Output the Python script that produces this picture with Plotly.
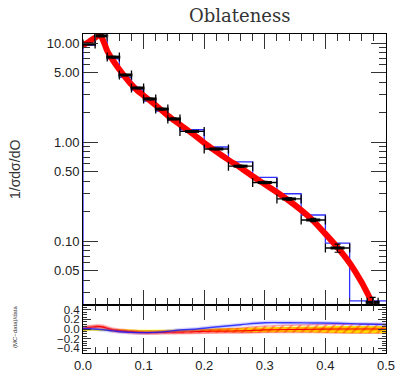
import plotly.graph_objects as go

# ---------------- data ----------------
bin_edges = [0.0, 0.02, 0.04, 0.06, 0.08, 0.10, 0.12, 0.14, 0.16, 0.20,
             0.24, 0.28, 0.32, 0.36, 0.40, 0.44, 0.50]
mc_hist = [9.5, 11.8, 6.9, 4.5, 3.35, 2.59, 2.05, 1.65, 1.33, 0.89,
           0.63, 0.44, 0.30, 0.183, 0.095, 0.0248]

data_x = [0.01, 0.03, 0.05, 0.07, 0.09, 0.11, 0.13, 0.15, 0.18, 0.22,
          0.26, 0.30, 0.34, 0.38, 0.42, 0.478]
data_xerr = [0.01, 0.01, 0.01, 0.01, 0.01, 0.01, 0.01, 0.01, 0.02, 0.02,
             0.02, 0.02, 0.02, 0.02, 0.02, 0.009]
data_y = [9.77, 11.8, 7.2, 4.75, 3.51, 2.72, 2.15, 1.71, 1.28, 0.85,
          0.57, 0.39, 0.266, 0.163, 0.085, 0.024]
data_yerr = [0.15, 0.2, 0.12, 0.08, 0.06, 0.05, 0.04, 0.03, 0.02, 0.015,
             0.012, 0.01, 0.008, 0.006, 0.008, 0.003]

curve_x = [0.0, 0.01, 0.02, 0.028, 0.035, 0.04, 0.05, 0.06, 0.07, 0.08,
           0.09, 0.10, 0.12, 0.14, 0.16, 0.18, 0.20, 0.22, 0.24, 0.26,
           0.28, 0.30, 0.32, 0.34, 0.36, 0.38, 0.40, 0.42, 0.44, 0.46, 0.48]
curve_y = [9.5, 10.3, 11.3, 12.2, 10.0, 8.3, 6.6, 5.4, 4.5, 3.8,
           3.3, 2.95, 2.35, 1.85, 1.5, 1.22, 0.98, 0.80, 0.66, 0.55,
           0.45, 0.375, 0.31, 0.255, 0.205, 0.16, 0.118, 0.086, 0.06, 0.038, 0.022]

ratio_x = [0.0, 0.028, 0.05, 0.078, 0.105, 0.132, 0.16, 0.188, 0.215, 0.26,
           0.30, 0.34, 0.38, 0.42, 0.46, 0.50]
ratio_red = [0.01, 0.05, -0.02, -0.055, -0.075, -0.07, -0.065, -0.055, -0.045, -0.04,
             -0.02, -0.01, -0.005, 0.0, 0.0, 0.0]
ratio_red_lo = [-0.01, 0.03, -0.04, -0.075, -0.095, -0.09, -0.09, -0.085, -0.08, -0.08,
                -0.075, -0.075, -0.075, -0.085, -0.09, -0.09]
ratio_red_hi = [0.03, 0.07, 0.0, -0.035, -0.055, -0.05, -0.04, -0.025, -0.01, 0.02,
                0.06, 0.08, 0.09, 0.095, 0.1, 0.1]
ratio_blue = [0.01, -0.01, -0.04, -0.07, -0.075, -0.06, -0.02, 0.0, 0.035, 0.09,
              0.13, 0.13, 0.125, 0.12, 0.105, 0.095]
ratio_yel_lo = [-0.04, -0.04, -0.05, -0.06, -0.065, -0.065, -0.065, -0.065, -0.065, -0.07,
                -0.07, -0.07, -0.075, -0.085, -0.09, -0.09]
ratio_yel_hi = [0.0, 0.005, 0.0, -0.01, -0.015, -0.015, -0.01, 0.0, 0.01, 0.02,
                0.035, 0.045, 0.05, 0.06, 0.06, 0.06]

x_ticks = [0.0, 0.1, 0.2, 0.3, 0.4, 0.5]
x_ticktext = ["0.0", "0.1", "0.2", "0.3", "0.4", "0.5"]
y_ticks = [0.05, 0.1, 0.5, 1.0, 5.0, 10.0]
y_ticktext = ["0.05", "0.10", "0.50", "1.00", "5.00", "10.00"]
y_minor = [0.03, 0.04, 0.06, 0.07, 0.08, 0.09, 0.2, 0.3, 0.4, 0.6, 0.7, 0.8, 0.9,
           2, 3, 4, 6, 7, 8, 9]
r_ticks = [-0.4, -0.2, 0.0, 0.2, 0.4]
r_ticktext = ["\u22120.4", "\u22120.2", "0.0", "0.2", "0.4"]

Y_LO, Y_HI = 0.0226, 12.3

# ---------------- figure ----------------
fig = go.Figure()

# blue MC histogram (step), starting from the bottom of the axis
hx = [bin_edges[0]] + bin_edges[:-1] + [bin_edges[-1]]
hy = [Y_LO] + mc_hist + [mc_hist[-1]]
fig.add_trace(go.Scatter(x=hx, y=hy, mode="lines", line=dict(color="#2f2fff", width=1.3, shape="hv"),
                         xaxis="x", yaxis="y", showlegend=False))

# red prediction curve
fig.add_trace(go.Scatter(x=curve_x, y=curve_y, mode="lines",
                         line=dict(color="#ff0000", width=6, shape="spline", smoothing=0.6),
                         xaxis="x", yaxis="y", showlegend=False))

# data points
fig.add_trace(go.Scatter(x=data_x, y=data_y, mode="markers",
                         marker=dict(symbol="line-ew", size=10, line=dict(color="black", width=3)),
                         error_x=dict(type="data", array=data_xerr, color="black", thickness=1.3, width=4.5),
                         error_y=dict(type="data", array=data_yerr, color="black", thickness=1.2, width=3),
                         xaxis="x", yaxis="y", showlegend=False))

# ratio panel: yellow band
fig.add_trace(go.Scatter(x=ratio_x, y=ratio_yel_lo, mode="lines", line=dict(width=0, shape="spline"),
                         xaxis="x2", yaxis="y2", showlegend=False))
fig.add_trace(go.Scatter(x=ratio_x, y=ratio_yel_hi, mode="lines", line=dict(width=0, shape="spline"),
                         fill="tonexty", fillcolor="#ffff00", xaxis="x2", yaxis="y2", showlegend=False))
# red hatched band
fig.add_trace(go.Scatter(x=ratio_x, y=ratio_red_lo, mode="lines",
                         line=dict(color="rgba(255,0,0,0.35)", width=1.5, shape="spline"),
                         xaxis="x2", yaxis="y2", showlegend=False))
fig.add_trace(go.Scatter(x=ratio_x, y=ratio_red_hi, mode="lines",
                         line=dict(color="rgba(255,0,0,0.35)", width=1.5, shape="spline"),
                         fill="tonexty", fillcolor="rgba(0,0,0,0)",
                         fillpattern=dict(shape="/", fgcolor="rgba(255,0,0,0.85)", bgcolor="rgba(0,0,0,0)",
                                          size=6, solidity=0.3),
                         xaxis="x2", yaxis="y2", showlegend=False))
# red line with pink halo
fig.add_trace(go.Scatter(x=ratio_x, y=ratio_red, mode="lines",
                         line=dict(color="rgba(255,0,0,0.25)", width=5, shape="spline"),
                         xaxis="x2", yaxis="y2", showlegend=False))
fig.add_trace(go.Scatter(x=ratio_x, y=ratio_red, mode="lines", line=dict(color="#ff0000", width=1.2, shape="spline"),
                         xaxis="x2", yaxis="y2", showlegend=False))
# blue line with halo
fig.add_trace(go.Scatter(x=ratio_x, y=ratio_blue, mode="lines",
                         line=dict(color="rgba(90,90,255,0.25)", width=4, shape="spline"),
                         xaxis="x2", yaxis="y2", showlegend=False))
fig.add_trace(go.Scatter(x=ratio_x, y=ratio_blue, mode="lines",
                         line=dict(color="rgba(20,20,255,0.8)", width=1.4, shape="spline"),
                         xaxis="x2", yaxis="y2", showlegend=False))

tickfont = dict(family="Liberation Sans, Arial, sans-serif", size=13, color="#222")
rtickfont = dict(family="Liberation Sans, Arial, sans-serif", size=11.5, color="#222")
common = dict(showline=True, linecolor="black", linewidth=1, mirror="ticks", automargin=False,
              showgrid=False, zeroline=False, ticks="inside", tickcolor="#333", tickwidth=1)

RD = 48 / 319

fig.update_layout(
    width=396, height=374,
    margin=dict(l=83, r=10, t=34, b=21, pad=0),
    paper_bgcolor="white", plot_bgcolor="white",
    font=tickfont,
    xaxis=dict(domain=[0, 1], anchor="y", range=[0, 0.5], tickvals=x_ticks, showticklabels=False,
               ticklen=15, minor=dict(dtick=0.02, tick0=0, ticklen=7, ticks="inside", tickcolor="#333"), **common),
    yaxis=dict(domain=[RD, 1], anchor="x", type="log", range=[-1.6465, 1.0909],
               tickvals=y_ticks, ticktext=y_ticktext, ticklen=15, tickfont=tickfont,
               minor=dict(tickvals=y_minor, ticklen=7, ticks="inside", tickcolor="#333"), **common),
    xaxis2=dict(domain=[0, 1], anchor="y2", range=[0, 0.5], tickvals=x_ticks, ticktext=x_ticktext,
                ticklen=15, tickfont=tickfont,
                minor=dict(dtick=0.02, tick0=0, ticklen=6, ticks="inside", tickcolor="#333"), **common),
    yaxis2=dict(domain=[0, RD], anchor="x2", range=[-0.5, 0.5], tickvals=r_ticks, ticktext=r_ticktext,
                ticklen=8, tickfont=rtickfont,
                minor=dict(dtick=0.05, tick0=0, ticklen=4, ticks="inside", tickcolor="#333"), **common),
    annotations=[
        dict(text="Oblateness", xref="paper", yref="paper", x=0.518, y=(353 - 15) / 319,
             xanchor="center", yanchor="middle", showarrow=False,
             font=dict(family="DejaVu Serif", size=18, color="#333")),
        dict(text="1/\u03c3d\u03c3/dO", xref="paper", yref="paper", x=(15 - 83) / 303, y=(353 - 170) / 319,
             xanchor="center", yanchor="middle", textangle=-90, showarrow=False,
             font=dict(family="Liberation Sans, Arial, sans-serif", size=14, color="#333")),
        dict(text="(MC\u2212data)/data", xref="paper", yref="paper", x=(15 - 83) / 303, y=(353 - 327) / 319,
             xanchor="center", yanchor="middle", textangle=-90, showarrow=False,
             font=dict(family="Liberation Sans, Arial, sans-serif", size=6, color="#333")),
    ],
)

fig.write_html("out.html")
